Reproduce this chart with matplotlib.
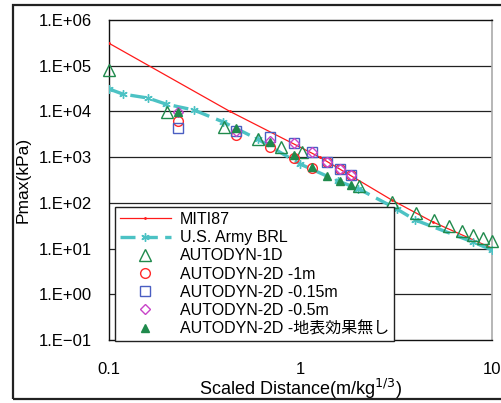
import numpy as np
import matplotlib
matplotlib.use('Agg')
import matplotlib.pyplot as plt
from matplotlib.patches import Rectangle

plt.rcParams['font.family'] = ['Liberation Sans', 'Noto Sans CJK JP']
plt.rcParams['axes.unicode_minus'] = True

# MITI87 curve
miti_x = [0.1, 0.428, 1.26, 3.0, 4.92, 10.0]
miti_y = [3.1e5, 1.0e4, 1.0e3, 115, 38, 10.2]

# U.S. Army BRL
brl_x = [0.1, 0.118, 0.16, 0.198, 0.278, 0.394, 0.6, 1.0, 1.57, 2.0, 3.19, 3.98, 7.96, 10.0]
brl_y = [3.1e4, 2.4e4, 1.96e4, 1.45e4, 1.07e4, 5.9e3, 2.45e3, 700, 300, 205, 73, 42, 13.9, 9.3]

# AUTODYN-1D
ad1_x = [0.1, 0.201, 0.399, 0.6, 0.791, 1.02, 2.02, 3.0, 4.02, 4.97, 5.97, 6.98, 7.96, 8.96, 10.0]
ad1_y = [8.1e4, 9.7e3, 4.56e3, 2.49e3, 1.66e3, 1.29e3, 233, 104, 60, 42, 31, 24, 19.7, 17, 14.6]

# AUTODYN-2D (same scaled distances for all 2D runs)
ad2_x = [0.23, 0.46, 0.69, 0.92, 1.15, 1.38, 1.61, 1.84]
ad2_1m = [6.2e3, 3.05e3, 1.66e3, 955, 590, 782, 550, 405]
ad2_015m = [4.3e3, 3.7e3, 2.76e3, 2.04e3, 1.29e3, 782, 550, 405]
ad2_05m = [9.5e3, 3.7e3, 2.2e3, 2.0e3, 1.29e3, 782, 550, 405]
ad2_noground = [9.5e3, 4.3e3, 2.14e3, 1.11e3, 607, 385, 300, 245]

yticks = [1e-1, 1e0, 1e1, 1e2, 1e3, 1e4, 1e5, 1e6]
ytick_labels = ['1.E\u221201', '1.E+00', '1.E+01', '1.E+02', '1.E+03', '1.E+04', '1.E+05', '1.E+06']
xticks = [0.1, 1, 10]
xtick_labels = ['0.1', '1', '10']

fig = plt.figure(figsize=(5.02, 4.03), dpi=100, facecolor='white')
ax = fig.add_axes([109 / 502, 1 - 340 / 403, 383 / 502, 320 / 403])

# chart area frame
fig.patches.append(Rectangle((13 / 502, 1 - 399 / 403), 1.0, 394 / 403,
                             transform=fig.transFigure, fill=False,
                             edgecolor='#222222', linewidth=1.6))

ax.set_xscale('log')
ax.set_yscale('log')
ax.set_xlim(0.1, 10)
ax.set_ylim(1e-1, 1e6)

for y in yticks[1:-1]:
    ax.axhline(y, color='#222222', linewidth=0.9, zorder=1)
ax.vlines(1, 0.1, 1, color='#555555', linewidth=1.0, zorder=1)

ax.plot(miti_x, miti_y, color='#FF1A1A', linewidth=0.9, marker='.', markersize=2,
        label='MITI87', zorder=3)
ax.plot(brl_x, brl_y, color='#4CC2C4', linewidth=2.4, dashes=(4.5, 2.2),
        marker=(6, 2, 0), markersize=6, markeredgewidth=1.0,
        markeredgecolor='#4CC2C4', label='U.S. Army BRL', zorder=3)
ax.plot(ad1_x, ad1_y, linestyle='none', marker='^', markersize=8,
        markerfacecolor='none', markeredgecolor='#1F8A4C', markeredgewidth=1.0,
        label='AUTODYN-1D', zorder=4, clip_on=False)
ax.plot(ad2_x, ad2_1m, linestyle='none', marker='o', markersize=7,
        markerfacecolor='none', markeredgecolor='#FF2A2A', markeredgewidth=1.0,
        label='AUTODYN-2D -1m', zorder=4)
ax.plot(ad2_x, ad2_015m, linestyle='none', marker='s', markersize=7,
        markerfacecolor='none', markeredgecolor='#4A5EC2', markeredgewidth=1.0,
        label='AUTODYN-2D -0.15m', zorder=4)
ax.plot(ad2_x, ad2_05m, linestyle='none', marker='D', markersize=5.5,
        markerfacecolor='none', markeredgecolor='#C844C8', markeredgewidth=1.0,
        label='AUTODYN-2D -0.5m', zorder=4)
ax.plot(ad2_x, ad2_noground, linestyle='none', marker='^', markersize=6,
        markerfacecolor='#1F8A4C', markeredgecolor='#1F8A4C',
        label='AUTODYN-2D -地表効果無し', zorder=5)

ax.set_yticks(yticks)
ax.set_yticklabels(ytick_labels)
ax.set_xticks(xticks)
ax.set_xticklabels(xtick_labels)
ax.minorticks_off()
ax.tick_params(axis='y', length=0, pad=12, labelsize=12)
ax.tick_params(axis='x', length=0, pad=16, labelsize=12)

for s in ['top', 'left', 'bottom']:
    ax.spines[s].set_color('#111111')
    ax.spines[s].set_linewidth(1.0)
ax.spines['right'].set_color('#AAAAAA')
ax.spines['right'].set_linewidth(1.2)

yl = ax.set_ylabel('Pmax(kPa)', fontsize=12.5)
yl.set_va('center')
ax.yaxis.set_label_coords(-0.2245, 0.5)
xl = ax.set_xlabel('Scaled Distance(m/kg$^{1/3}$)', fontsize=13)
xl.set_va('center')
ax.xaxis.set_label_coords(0.5, -0.154)

leg = ax.legend(loc='upper left', bbox_to_anchor=(0.015, 0.415), fontsize=11.5,
                frameon=True, fancybox=False, framealpha=1, edgecolor='#222222',
                labelspacing=0.2, handlelength=3.2, handletextpad=0.6,
                borderpad=0.3, borderaxespad=0)
leg.get_frame().set_linewidth(1.0)
leg.set_zorder(6)

plt.savefig('out.png', dpi=100)
